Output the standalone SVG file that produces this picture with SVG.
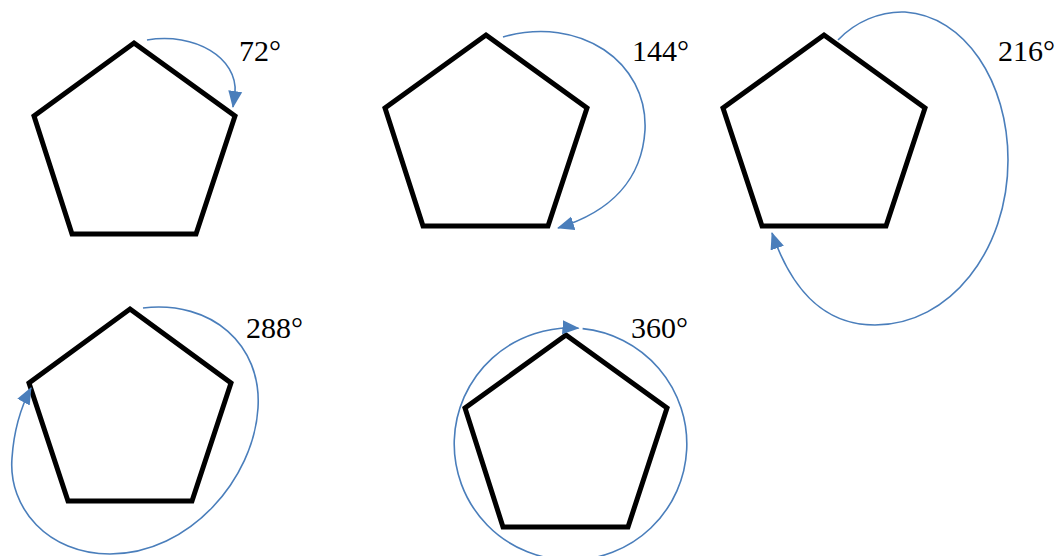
<svg xmlns="http://www.w3.org/2000/svg" width="1060" height="556" viewBox="0 0 1060 556">
<style>
.pent{fill:none;stroke:#000;stroke-width:5;stroke-linejoin:miter}
.arc{fill:none;stroke:#4a7ebb;stroke-width:1.6}
.lbl{font-family:"Liberation Serif","Times New Roman",serif;font-size:30px;fill:#000}
</style>
<defs>
<marker id="ah" markerUnits="userSpaceOnUse" markerWidth="18" markerHeight="16" viewBox="0 0 18 16" refX="16" refY="8" orient="auto">
<path d="M0,1 L17,8 L0,15 Z" fill="#4a7ebb"/>
</marker>
</defs>
<rect width="1060" height="556" fill="#fff"/>
<g id="node-72">
<polygon class="pent" points="134,43 235,116 196,234 72,234 34,116"/>
<text class="lbl" x="239" y="61">72°</text>
</g>
<g id="node-144">
<polygon class="pent" points="486,35 587,108 548,226 423,226 385,108"/>
<text class="lbl" x="632" y="61">144°</text>
</g>
<g id="node-216">
<polygon class="pent" points="824,35 925,108 886,226 762,226 723,108"/>
<text class="lbl" x="998" y="61">216°</text>
</g>
<g id="node-288">
<polygon class="pent" points="130,309 231,383 192,501 68,501 29,383"/>
<text class="lbl" x="246" y="338">288°</text>
</g>
<g id="node-360">
<polygon class="pent" points="566,335 667,408 628,527 503,527 465,408"/>
<text class="lbl" x="631" y="338">360°</text>
</g>
<g id="connectors">
<path class="arc" marker-end="url(#ah)" d="M147,40 C195,32 238,58 235,93 L233,107"/>
<path class="arc" marker-end="url(#ah)" d="M503,37 C580,15 648,62 645,130 C642,180 610,212 558,228"/>
<path class="arc" marker-end="url(#ah)" d="M838,40 C855,22 880,11 905,12 C965,16 1008,82 1008,160 C1008,250 950,325 875,325 C820,325 790,285 772,233"/>
<path class="arc" marker-end="url(#ah)" d="M143,308 C212,300 262,345 258,408 C254,478 190,554 110,554 C48,554 8,508 12,458 C14,428 22,405 31,388"/>
<path class="arc" marker-end="url(#ah)" d="M582.6,328.6 A116,116 0 0 1 571,560 A116,116 0 1 1 578.5,328.3"/>
</g>
</svg>
